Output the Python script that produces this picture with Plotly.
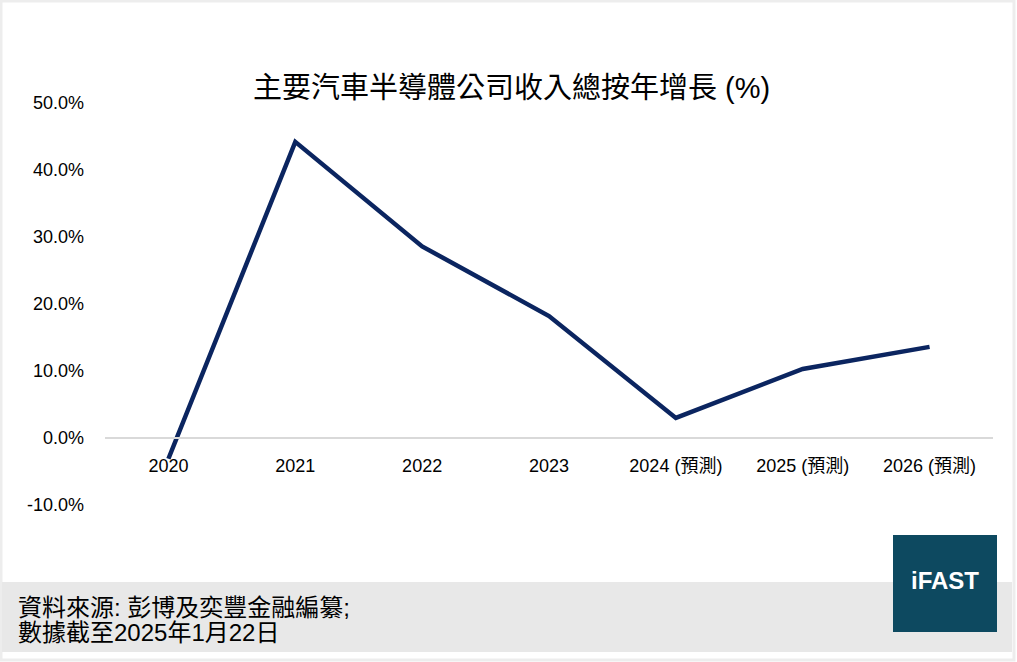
import plotly.graph_objects as go

# 數據 (按年增長, %)
years = ["2020", "2021", "2022", "2023", "2024 (預測)", "2025 (預測)", "2026 (預測)"]
growth = [-3.1, 44.2, 28.6, 18.2, 3.0, 10.3, 13.6]

y_ticks = [-10, 0, 10, 20, 30, 40, 50]
y_labels = ["-10.0%", "0.0%", "10.0%", "20.0%", "30.0%", "40.0%", "50.0%"]

title_text = "主要汽車半導體公司收入總按年增長 (%)"
source_lines = ["資料來源: 彭博及奕豐金融編纂;", "數據截至2025年1月22日"]

FONT = "Liberation Sans, Arial, Noto Sans CJK TC, sans-serif"
W, H = 1017, 662
L, R, T, B = 105, 24, 103, 157
pw, ph = W - L - R, H - T - B


def px(x):
    return (x - L) / pw


def py(y):
    return (H - B - y) / ph


fig = go.Figure()
fig.add_trace(go.Scatter(
    x=years, y=growth, mode="lines",
    line=dict(color="#0b2560", width=4.5),
    hoverinfo="x+y",
))

shapes = [
    # 外框
    dict(type="rect", xref="paper", yref="paper",
         x0=px(1), x1=px(1014), y0=py(660), y1=py(1),
         line=dict(color="#ededed", width=3), layer="below"),
    # 底部灰色區域
    dict(type="rect", xref="paper", yref="paper",
         x0=px(2), x1=px(1012), y0=py(652), y1=py(582),
         fillcolor="#e8e8e8", line=dict(width=0), layer="below"),
    # iFAST 標誌
    dict(type="rect", xref="paper", yref="paper",
         x0=px(893), x1=px(997), y0=py(632), y1=py(535),
         fillcolor="#0d4960", line=dict(width=0), layer="above"),
]

annotations = [
    dict(text=title_text, xref="paper", yref="paper", x=px(511), y=py(88),
         showarrow=False, font=dict(family=FONT, size=29, color="#000000"),
         xanchor="center", yanchor="middle"),
    dict(text="<b>iFAST</b>", xref="paper", yref="paper", x=px(945), y=py(580),
         showarrow=False, font=dict(family=FONT, size=24, color="#ffffff"),
         xanchor="center", yanchor="middle"),
]
for i, line in enumerate(source_lines):
    annotations.append(dict(
        text=line, xref="paper", yref="paper", x=px(16), y=py(607 + 25 * i),
        showarrow=False, align="left",
        font=dict(family="Liberation Sans Narrow, " + FONT, size=24, color="#000000"),
        xanchor="left", yanchor="middle"))

fig.update_layout(
    width=W, height=H,
    margin=dict(l=L, r=R, t=T, b=B),
    paper_bgcolor="#ffffff", plot_bgcolor="#ffffff",
    showlegend=False,
    font=dict(family=FONT, size=18, color="#000000"),
    shapes=shapes,
    annotations=annotations,
    xaxis=dict(
        type="category", range=[-0.5, 6.5],
        anchor="free", position=1 / 6,
        showline=True, linecolor="#d9d9d9", linewidth=2,
        showgrid=False, ticks="", ticklabelstandoff=11,
        tickfont=dict(family=FONT, size=18),
    ),
    yaxis=dict(
        range=[-10, 50], tickvals=y_ticks, ticktext=y_labels,
        showgrid=False, zeroline=False, showline=False, ticks="",
        ticklabelstandoff=20,
        tickfont=dict(family=FONT, size=18),
    ),
)

fig.write_html("out.html", config={"displayModeBar": False},
               post_script="document.body.style.margin='0';")
